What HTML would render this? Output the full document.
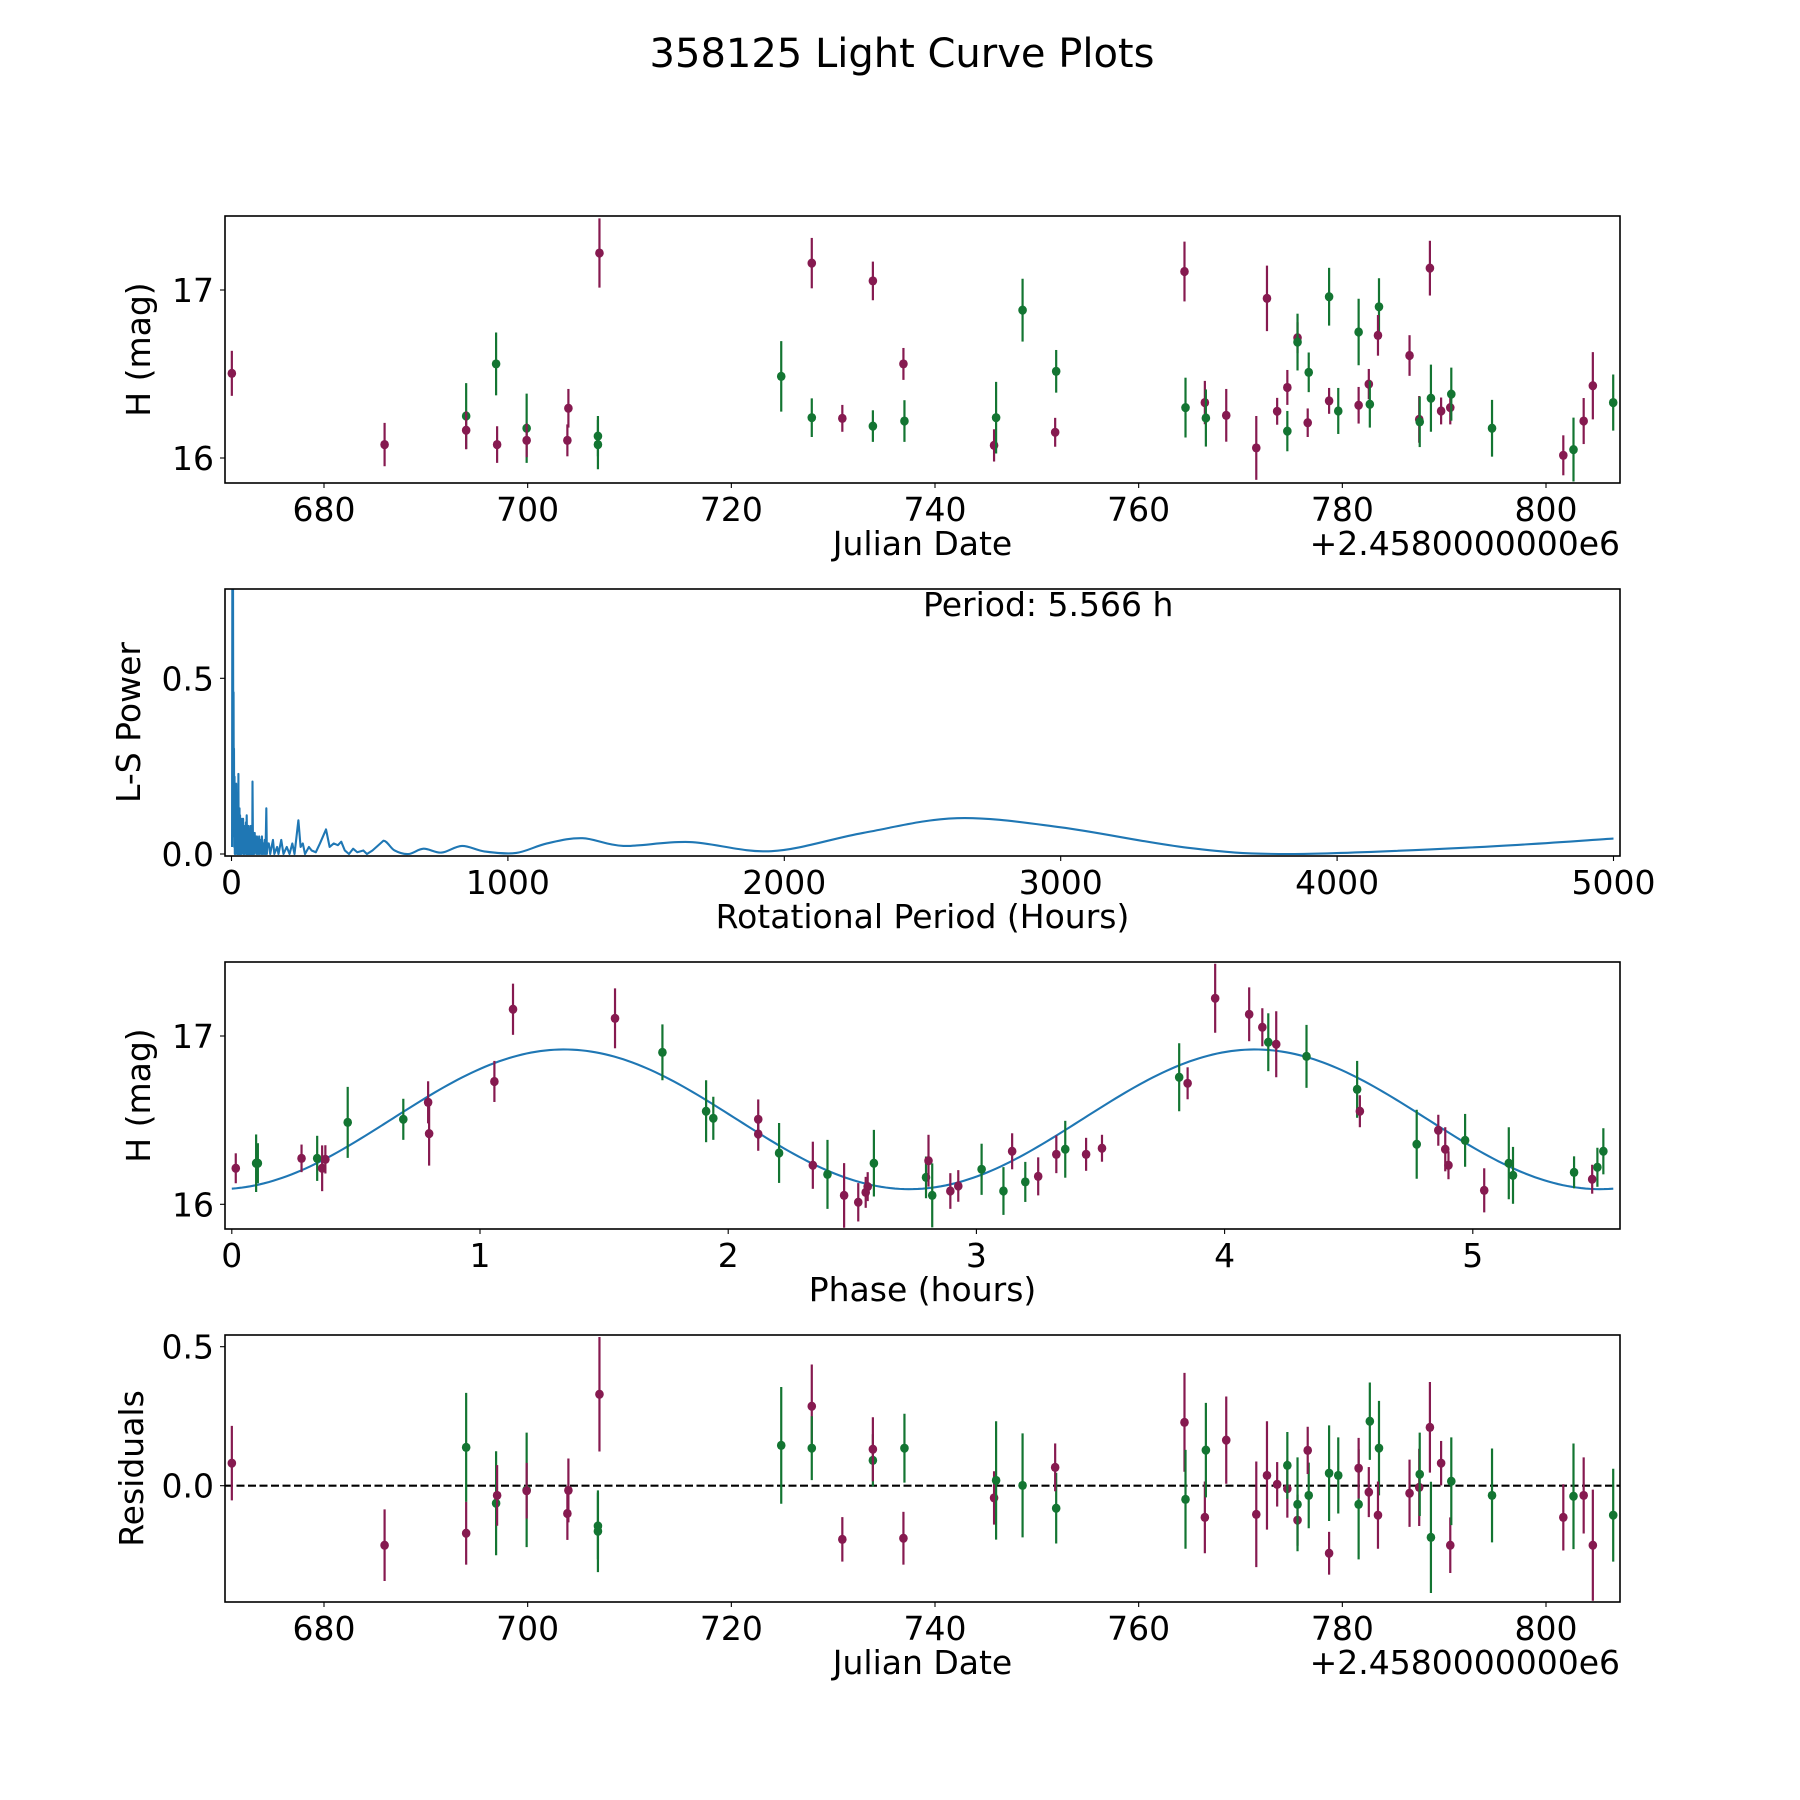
<!DOCTYPE html>
<html><head><meta charset="utf-8"><title>358125 Light Curve Plots</title>
<style>html,body{margin:0;padding:0;background:#fff}svg{display:block;font-family:"DejaVu Sans","Liberation Sans",sans-serif}</style>
</head><body>
<svg id="fig" width="1800" height="1800" viewBox="0 0 1800 1800" xmlns="http://www.w3.org/2000/svg">
<rect width="1800" height="1800" fill="#fff"/>
<text x="902" y="67" font-size="40" text-anchor="middle">358125 Light Curve Plots</text>
</svg>
<script>
// ---- data: light curve ----
const days=[670.95,685.95,693.96,693.96,696.9,697.0,699.9,699.9,704.0,703.9,706.9,706.9,707.05,724.9,727.9,727.9,730.9,733.9,733.9,736.9,737.0,745.8,746.0,748.6,751.9,751.8,764.5,764.6,766.5,766.6,768.6,771.55,772.6,773.6,774.6,774.6,775.6,775.6,776.7,776.6,778.7,778.7,779.6,781.6,781.6,782.6,782.7,783.6,783.5,786.6,787.55,787.6,788.6,788.7,789.7,790.6,790.7,794.7,801.7,802.7,803.7,804.6,806.6];
const mags=[16.504,16.08,16.25,16.165,16.56,16.08,16.177,16.105,16.296,16.105,16.13,16.08,17.22,16.486,17.16,16.24,16.236,16.19,17.054,16.56,16.22,16.075,16.24,16.88,16.516,16.153,17.11,16.30,16.33,16.238,16.254,16.06,16.95,16.278,16.42,16.16,16.716,16.69,16.51,16.21,16.96,16.34,16.28,16.75,16.314,16.44,16.32,16.90,16.73,16.61,16.23,16.215,17.13,16.356,16.28,16.30,16.38,16.177,16.016,16.05,16.22,16.43,16.33];
const errs=[0.134,0.129,0.196,0.113,0.187,0.109,0.206,0.10,0.115,0.095,0.12,0.147,0.206,0.21,0.15,0.115,0.08,0.094,0.115,0.095,0.124,0.096,0.213,0.187,0.127,0.086,0.178,0.178,0.129,0.17,0.157,0.19,0.195,0.08,0.104,0.12,0.092,0.169,0.118,0.085,0.172,0.077,0.137,0.198,0.109,0.09,0.139,0.17,0.121,0.121,0.139,0.15,0.163,0.2,0.08,0.1,0.158,0.169,0.119,0.19,0.137,0.2,0.167];
const filters="MMGMGMGMMMGGMGMGMGMMGMGGGMMGMGMMMMMGMGGMGMGGMMGGMMMGMGMMGGMGMMG";
const residuals=[0.081,-0.214,0.138,-0.171,-0.063,-0.035,-0.015,-0.018,-0.017,-0.10,-0.145,-0.164,0.329,0.145,0.286,0.135,-0.193,0.091,0.131,-0.189,0.135,-0.044,0.019,0.001,-0.081,0.066,0.228,-0.049,-0.114,0.128,0.164,-0.103,0.037,0.005,-0.011,0.073,-0.124,-0.067,-0.035,0.127,0.045,-0.243,0.037,-0.067,0.063,-0.023,0.232,0.135,-0.106,-0.027,-0.006,0.041,0.21,-0.186,0.081,-0.214,0.016,-0.035,-0.114,-0.038,-0.035,-0.214,-0.106];
// ---- data: phase-folded ----
const phases=[0.016,0.098,0.105,0.281,0.344,0.364,0.377,0.467,0.691,0.791,0.795,1.058,1.133,1.544,1.735,1.911,1.94,2.121,2.121,2.205,2.341,2.4,2.467,2.524,2.554,2.562,2.587,2.797,2.807,2.822,2.895,2.927,3.021,3.109,3.144,3.197,3.249,3.322,3.358,3.442,3.506,3.817,3.851,3.962,4.099,4.152,4.176,4.208,4.33,4.534,4.545,4.774,4.861,4.889,4.902,4.969,5.046,5.145,5.162,5.408,5.481,5.502,5.526];
const phaseMags=[16.214,16.244,16.244,16.273,16.273,16.214,16.267,16.487,16.505,16.606,16.42,16.73,17.159,17.105,16.903,16.553,16.511,16.505,16.418,16.305,16.232,16.178,16.053,16.012,16.071,16.105,16.244,16.16,16.259,16.053,16.079,16.109,16.208,16.079,16.315,16.133,16.166,16.297,16.327,16.297,16.333,16.755,16.719,17.224,17.129,17.052,16.963,16.951,16.879,16.683,16.553,16.357,16.44,16.327,16.232,16.38,16.083,16.244,16.172,16.19,16.149,16.22,16.315];
const phaseErrs=[0.089,0.171,0.119,0.082,0.134,0.136,0.084,0.211,0.122,0.125,0.19,0.122,0.152,0.178,0.166,0.184,0.128,0.118,0.1,0.178,0.14,0.205,0.192,0.114,0.092,0.086,0.198,0.124,0.154,0.19,0.106,0.094,0.152,0.142,0.107,0.119,0.113,0.112,0.169,0.098,0.08,0.202,0.095,0.205,0.16,0.113,0.172,0.196,0.187,0.169,0.095,0.205,0.092,0.131,0.083,0.157,0.131,0.214,0.169,0.095,0.086,0.116,0.137];
const phaseFilters="MGGMGMMGGMMMMMGGGMMGMGMMMMGGMGMMGGMGMMGMMGMMMMGMGGMGMMMGMGGGMGG";
const modelMean=16.505, modelAmp=0.415, modelPeak=1.339, period=5.566;
// ---- data: periodogram ----
const lsPeriods=[2,3,4,5.5,6.5,7.5,8.5,9,10,11,12,13,14,15,16,17,18,19,20,21,22,23,24,25,26,27,28,29,30,31,33,35,36,38,40,42,43,45,47,48,50,52,53,55,57,58,60,62,64,66,68,70,72,73,75,76,78,80,82,84,86,88,90,92,94,96,98,100,102,105,108,110,112,115,118,120,123,126,128,130,135,140,150,155,165,170,180,188,200,210,220,228,242,250,258,266,280,290,305,320,342,355,370,385,397,410,425,440,455,477,490,510,550,590,640,695,760,834,917,1030,1141,1270,1418,1658,1953,2285,2625,3000,3457,3830,4495,5000];
const lsPower=[0.02,0.8,0.3,0.8,0.2,0.46,0.05,0.3,0.02,0.22,0.0,0.18,0.0,0.15,0.01,0.2,0.02,0.12,0.0,0.1,0.01,0.16,0.0,0.228,0.01,0.09,0.0,0.13,0.0,0.11,0.0,0.09,0.0,0.1,0.01,0.1,0.0,0.08,0.0,0.07,0.01,0.09,0.0,0.11,0.0,0.06,0.0,0.08,0.0,0.07,0.0,0.08,0.0,0.06,0.0,0.206,0.0,0.06,0.0,0.06,0.01,0.05,0.0,0.05,0.0,0.04,0.0,0.05,0.0,0.04,0.0,0.05,0.0,0.03,0.0,0.04,0.0,0.13,0.0,0.03,0.03,0.0,0.04,0.0,0.02,0.0,0.04,0.0,0.02,0.0,0.03,0.0,0.096,0.02,0.03,0.0,0.02,0.01,0.005,0.03,0.07,0.02,0.03,0.025,0.035,0.01,0.0,0.015,0.005,0.01,0.0,0.01,0.038,0.01,0.0,0.015,0.004,0.023,0.007,0.003,0.03,0.045,0.023,0.034,0.008,0.06,0.102,0.076,0.018,0.0,0.019,0.044];
const jdTicks=[680,700,720,740,760,780,800];
const magTicks=[16,17];
const lsXTicks=[0,1000,2000,3000,4000,5000];
const lsYTicks=[0,0.5];
const phaseTicks=[0,1,2,3,4,5];
const resTicks=[0,0.5];

const NS="http://www.w3.org/2000/svg";
const svg=document.getElementById('fig');
const COL={M:'#861a50',G:'#137532'};
function mk(tag,attrs,parent){const e=document.createElementNS(NS,tag);for(const k in attrs)e.setAttribute(k,attrs[k]);(parent||svg).appendChild(e);return e;}
const L=225,R=1620;
function lin(d0,d1,r0,r1){return v=>r0+(v-d0)*(r1-r0)/(d1-d0);}

function panel(name,top,bottom,xs,ys,xt,yt,xfmt,yfmt,xlabel,ylabel,ylx,offset){
  const g=mk('g',{});
  
  
  const clipId=name+'-clip';
  const cp=mk('clipPath',{id:clipId},g);mk('rect',{x:L,y:top,width:R-L,height:bottom-top},cp);
  const plot=mk('g',{'clip-path':'url(#'+clipId+')'},g);
  
  
  xt.forEach(v=>{const x=xs(v);
    const t=mk('line',{x1:x,x2:x,y1:bottom,y2:bottom+5,stroke:'#000','stroke-width':1.1},g);
    
    
    const lb=mk('text',{x:x,y:bottom+38,'font-size':33,'text-anchor':'middle'},g);lb.textContent=xfmt(v);
    
    });
  yt.forEach(v=>{const y=ys(v);
    const t=mk('line',{x1:L-5,x2:L,y1:y,y2:y,stroke:'#000','stroke-width':1.1},g);
    
    
    const lb=mk('text',{x:L-11,y:y+12,'font-size':33,'text-anchor':'end'},g);lb.textContent=yfmt(v);
    
    });
  const xl=mk('text',{x:(L+R)/2,y:bottom+72,'font-size':33,'text-anchor':'middle'},g);xl.textContent=xlabel;
  
  
  const cy=(top+bottom)/2;
  const yl=mk('text',{x:ylx,y:cy,'font-size':33,'text-anchor':'middle',transform:'rotate(-90 '+ylx+' '+cy+')'},g);yl.textContent=ylabel;
  
  
  if(offset){const o=mk('text',{x:R,y:bottom+72,'font-size':33,'text-anchor':'end'},g);o.textContent=offset;
    
    }
  return {g,plot,frame:()=>{const f=mk('rect',{x:L,y:top,width:R-L,height:bottom-top,fill:'none',stroke:'#000','stroke-width':1.6},g);
    
    }};
}
function errPoint(parent,x,y,e1,e2,c,nm){
  const grp=mk('g',{},parent);
  
  
  mk('line',{x1:x,x2:x,y1:e1,y2:e2,stroke:c,'stroke-width':2.2},grp);
  mk('ellipse',{cx:x,cy:y,rx:4.3,ry:4.6,fill:c},grp);
}
const f2=v=>v.toFixed(1), fi=v=>String(v);

// Panel 1
{const xs=lin(680,800,324,1546), ys=lin(16,17,458,290);
 const p=panel('light-curve-panel',216,483,xs,ys,jdTicks,magTicks,fi,fi,'Julian Date','H (mag)',150,'+2.4580000000e6');
 days.forEach((d,i)=>errPoint(p.plot,xs(d),ys(mags[i]),ys(mags[i]-errs[i]),ys(mags[i]+errs[i]),COL[filters[i]],'observation-point'));
 p.frame();}

// Panel 2
{const xs=lin(0,1000,231.5,507.9), ys=lin(0,0.5,854,678.3);
 const p=panel('periodogram-panel',589,856,xs,ys,lsXTicks,lsYTicks,fi,f2,'Rotational Period (Hours)','L-S Power',140,null);
 let d='';
 const pts=lsPeriods.map((v,i)=>[xs(v),ys(lsPower[i])]);
 d='M'+pts[0][0]+','+pts[0][1];
 for(let i=1;i<pts.length;i++){
   if(lsPeriods[i]<=550){d+=' L'+pts[i][0]+','+pts[i][1];}
   else{const p0=pts[i-2],p1=pts[i-1],p2=pts[i],p3=pts[Math.min(i+1,pts.length-1)];
     const c1=[p1[0]+(p2[0]-p0[0])/6,p1[1]+(p2[1]-p0[1])/6],c2=[p2[0]-(p3[0]-p1[0])/6,p2[1]-(p3[1]-p1[1])/6];
     d+=' C'+c1[0]+','+c1[1]+' '+c2[0]+','+c2[1]+' '+p2[0]+','+p2[1];}
 }
 const path=mk('path',{d:d,fill:'none',stroke:'#1f77b4','stroke-width':2.1,'stroke-linejoin':'round'},p.plot);
 
 
 const t=mk('text',{x:923,y:616,'font-size':33},p.g);t.textContent='Period: '+period.toFixed(3)+' h';
 
 
 p.frame();}

// Panel 3
{const xs=lin(0,1,231.8,480), ys=lin(16,17,1204.3,1036);
 const p=panel('phase-panel',962,1229,xs,ys,phaseTicks,magTicks,fi,fi,'Phase (hours)','H (mag)',150,null);
 let d='';
 for(let k=0;k<=300;k++){const ph=period*k/300;const m=modelMean+modelAmp*Math.cos(2*Math.PI*(ph-modelPeak)/(period/2));d+=(k?' L':'M')+xs(ph)+','+ys(m);}
 const path=mk('path',{d:d,fill:'none',stroke:'#1f77b4','stroke-width':2.1},p.plot);
 
 
 phases.forEach((ph,i)=>errPoint(p.plot,xs(ph),ys(phaseMags[i]),ys(phaseMags[i]-phaseErrs[i]),ys(phaseMags[i]+phaseErrs[i]),COL[phaseFilters[i]],'phase-point'));
 p.frame();}

// Panel 4
{const xs=lin(680,800,324,1546), ys=lin(0,0.5,1485.7,1346.7);
 const p=panel('residuals-panel',1335,1602,xs,ys,jdTicks,resTicks,fi,f2,'Julian Date','Residuals',143,'+2.4580000000e6');
 const zl=mk('line',{x1:L,x2:R,y1:ys(0),y2:ys(0),stroke:'#000','stroke-width':2.1,'stroke-dasharray':'8,3.5'},p.plot);
 
 
 days.forEach((d,i)=>errPoint(p.plot,xs(d),ys(residuals[i]),ys(residuals[i]-errs[i]),ys(residuals[i]+errs[i]),COL[filters[i]],'residual-point'));
 p.frame();}
</script>
</body></html>
